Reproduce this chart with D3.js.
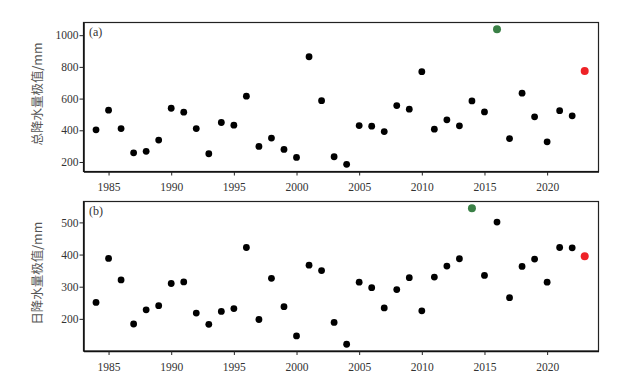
<!DOCTYPE html>
<html><head><meta charset="utf-8">
<script src="https://cdn.jsdelivr.net/npm/d3@7"></script>
<style>body{margin:0;background:#fff}</style>
</head><body>
<svg id="chart" width="642" height="376"></svg>
<script>
const years = d3.range(1984, 2024);
const totalPrecip = [403,527,411,258,267,338,539,514,411,252,449,432,615,298,351,279,229,864,587,233,185,430,426,392,556,533,770,407,466,428,585,516,1038,348,634,485,327,524,491,774];
const dailyPrecip = [251,388,321,184,228,241,310,315,218,183,223,232,422,198,326,238,147,367,350,189,121,314,297,234,291,328,225,330,364,387,544,335,501,266,363,386,314,422,421,395];
const xTicks = [1985,1990,1995,2000,2005,2010,2015,2020];
const yTicksA = [200,400,600,800,1000];
const yTicksB = [200,300,400,500];
const labelsY = ["总降水量极值/mm","日降水量极值/mm"];
const panelTags = ["(a)","(b)"];
const maxYearA = 2016, lastYear = 2023, maxYearB = 2014;

const svg = d3.select("#chart");
const left = 83.5, right = 598.5;
const x = d3.scaleLinear().domain([1983, 2024.1]).range([left, right]);
const serif = "'Liberation Serif', 'Times New Roman', serif";

function panel(top, bottom, domain, ticks, values, label, tag, maxYear) {
  const y = d3.scaleLinear().domain(domain).range([bottom, top]);
  const g = svg.append("g");
  g.append("rect").attr("x", left).attr("y", top).attr("width", right-left).attr("height", bottom-top)
    .attr("fill","none").attr("stroke","#222").attr("stroke-width",1.2);
  const xa = g.append("g").attr("transform",`translate(0,${bottom})`)
    .call(d3.axisBottom(x).tickValues(xTicks).tickFormat(d3.format("d")).tickSize(4).tickSizeOuter(0));
  const ya = g.append("g").attr("transform",`translate(${left},0)`)
    .call(d3.axisLeft(y).tickValues(ticks).tickFormat(d3.format("d")).tickSize(4).tickSizeOuter(0));
  [xa, ya].forEach(a => {
    a.attr("font-family", null).attr("font-size", null);
    a.select(".domain").attr("stroke","#111").attr("stroke-width",1.5);
    a.selectAll(".tick line").attr("stroke","#222");
    a.selectAll(".tick text").style("font-family", serif).style("font-size","11.5px").attr("fill","#333");
  });
  xa.selectAll(".tick text").attr("dy","1.1em");
  ya.selectAll(".tick text").attr("x",-5);
  g.append("text").attr("x", 89).attr("y", top+13).text(tag)
    .style("font-family", serif).style("font-size","12px").attr("fill","#333");
  g.append("text").attr("transform",`translate(42,${(top+bottom)/2 - 3}) rotate(-90)`)
    .attr("text-anchor","middle").text(label)
    .style("font-family","'Noto Sans CJK SC', sans-serif").style("font-size","12.5px").attr("fill","#555");
  g.selectAll("circle").data(years.map((yr,i)=>({yr, v:values[i]}))).join("circle")
    .attr("cx", d=>x(d.yr)).attr("cy", d=>y(d.v))
    .attr("r", d => (d.yr===maxYear || d.yr===lastYear) ? 4 : 3.4)
    .attr("fill", d => d.yr===maxYear ? "#3a8046" : d.yr===lastYear ? "#ee2227" : "#000");
}
panel(22.5, 171.5, [140, 1080], yTicksA, totalPrecip, labelsY[0], panelTags[0], maxYearA);
panel(201.5, 351, [100, 565], yTicksB, dailyPrecip, labelsY[1], panelTags[1], maxYearB);
</script>
</body></html>
